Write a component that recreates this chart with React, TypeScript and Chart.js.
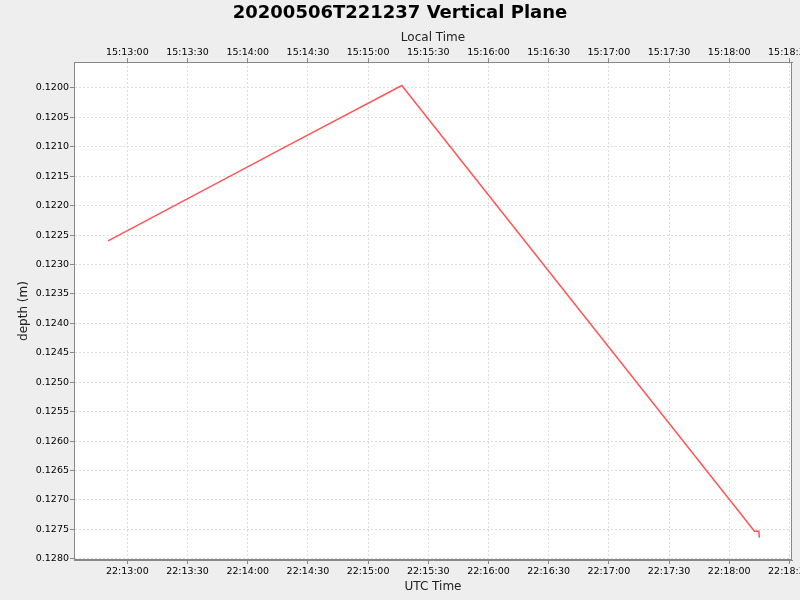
import React, { useEffect, useRef } from "react";
import { Chart, registerables } from "chart.js";

Chart.register(...registerables);

const TITLE = "20200506T221237 Vertical Plane";
// seconds after 22:00:00 UTC
const utcSeconds = [770.4, 856.6, 916.8, 1092.6, 1094.8, 1095.0];
const depthValues = [0.1226, 0.12104, 0.11996, 0.12753, 0.12753, 0.12764];
const xRange = [753.4, 1111.3];
const yRange = [0.11956, 0.12802];
const UTC_BASE_HOUR = 22;
const LOCAL_BASE_HOUR = 15;

const FONT = "'DejaVu Sans', sans-serif";

function fmtTime(sec: number, baseHour: number): string {
  const total = Math.round(baseHour * 3600 + sec);
  const h = Math.floor(total / 3600) % 24;
  const m = Math.floor((total % 3600) / 60);
  const s = total % 60;
  const p = (n: number) => String(n).padStart(2, "0");
  return `${p(h)}:${p(m)}:${p(s)}`;
}

const bgPlugin = {
  id: "bgPlugin",
  beforeDraw(chart: any) {
    const { ctx, chartArea } = chart;
    ctx.save();
    ctx.fillStyle = "#eeeeee";
    ctx.fillRect(0, 0, chart.width, chart.height);
    ctx.fillStyle = "#ffffff";
    ctx.fillRect(chartArea.left, chartArea.top, chartArea.right - chartArea.left, chartArea.bottom - chartArea.top);
    ctx.restore();
  },
  afterDraw(chart: any) {
    const { ctx, chartArea } = chart;
    ctx.save();
    ctx.strokeStyle = "#888888";
    ctx.lineWidth = 1;
    ctx.strokeRect(chartArea.left + 0.5, chartArea.top + 0.5, chartArea.right - chartArea.left - 1, chartArea.bottom - chartArea.top - 1);
    ctx.fillStyle = "#000000";
    ctx.font = `bold 18px ${FONT}`;
    ctx.textAlign = "center";
    ctx.textBaseline = "middle";
    ctx.fillText(TITLE, chart.width / 2, 13);
    ctx.restore();
  },
};

export default function App() {
  const ref = useRef<HTMLCanvasElement | null>(null);
  useEffect(() => {
    if (!ref.current) return;
    Chart.defaults.font.family = FONT;
    const data = utcSeconds.map((x, i) => ({ x, y: depthValues[i] }));
    const tickFont = { family: FONT, size: 9.5 };
    const titleFont = { family: FONT, size: 12 };
    const chart = new Chart(ref.current, {
      type: "line",
      data: {
        datasets: [
          {
            data,
            xAxisID: "x",
            yAxisID: "y",
            borderColor: "#ff5555",
            borderWidth: 1.5,
            pointRadius: 0,
            tension: 0,
            fill: false,
          },
        ],
      },
      plugins: [bgPlugin],
      options: {
        animation: false,
        responsive: false,
        events: [],
        layout: { padding: { left: 0, right: 8, top: 0, bottom: 0 } },
        plugins: {
          legend: { display: false },
          title: { display: false },
          tooltip: { enabled: false },
        },
        scales: {
          x: {
            type: "linear",
            position: "bottom",
            min: xRange[0],
            max: xRange[1],
            afterFit(scale: any) {
              scale.height = 40;
              scale.paddingLeft = 0;
              scale.paddingRight = 0;
            },
            ticks: {
              stepSize: 30,
              includeBounds: false,
              autoSkip: false,
              maxRotation: 0,
              maxTicksLimit: 100,
              padding: 2,
              color: "#000000",
              font: tickFont,
              callback: (v: any) => fmtTime(Number(v), UTC_BASE_HOUR),
            },
            grid: {
              color: "#dddddd",
              tickColor: "#888888",
              tickLength: 4,
              tickBorderDash: [],
            },
            border: { display: true, color: "#888888", width: 1, dash: [2, 2] },
            title: {
              display: true,
              text: "UTC Time",
              color: "#222222",
              font: titleFont,
              padding: { top: 0, bottom: 6 },
            },
          },
          x2: {
            type: "linear",
            position: "top",
            min: xRange[0],
            max: xRange[1],
            afterFit(scale: any) {
              scale.height = 62;
              scale.paddingLeft = 0;
              scale.paddingRight = 0;
            },
            ticks: {
              stepSize: 30,
              includeBounds: false,
              autoSkip: false,
              maxRotation: 0,
              maxTicksLimit: 100,
              padding: 0,
              color: "#000000",
              font: tickFont,
              callback: (v: any) => fmtTime(Number(v), LOCAL_BASE_HOUR),
            },
            grid: {
              drawOnChartArea: false,
              tickColor: "#888888",
              tickLength: 4,
            },
            border: { display: true, color: "#888888", width: 1 },
            title: {
              display: true,
              text: "Local Time",
              color: "#222222",
              font: titleFont,
              padding: { top: 31, bottom: 0 },
            },
          },
          y: {
            type: "linear",
            position: "left",
            reverse: true,
            min: yRange[0],
            max: yRange[1],
            afterFit(scale: any) {
              scale.width = 74;
              scale.paddingTop = 0;
              scale.paddingBottom = 0;
            },
            ticks: {
              stepSize: 0.0005,
              includeBounds: false,
              autoSkip: false,
              maxTicksLimit: 100,
              padding: 1,
              color: "#000000",
              font: tickFont,
              callback: (v: any) => Number(v).toFixed(4),
            },
            grid: {
              color: "#dddddd",
              tickColor: "#888888",
              tickLength: 4,
              tickBorderDash: [],
            },
            border: { display: true, color: "#888888", width: 1, dash: [2, 2] },
            title: {
              display: true,
              text: "depth (m)",
              color: "#222222",
              font: titleFont,
              padding: { top: 17, bottom: 0 },
            },
          },
        },
      } as any,
    });
    return () => chart.destroy();
  }, []);
  return (
    <div style={{ position: "fixed", left: 0, top: 0, width: 800, height: 600 }}>
      <canvas ref={ref} width={800} height={600} style={{ display: "block", width: 800, height: 600 }} />
    </div>
  );
}
